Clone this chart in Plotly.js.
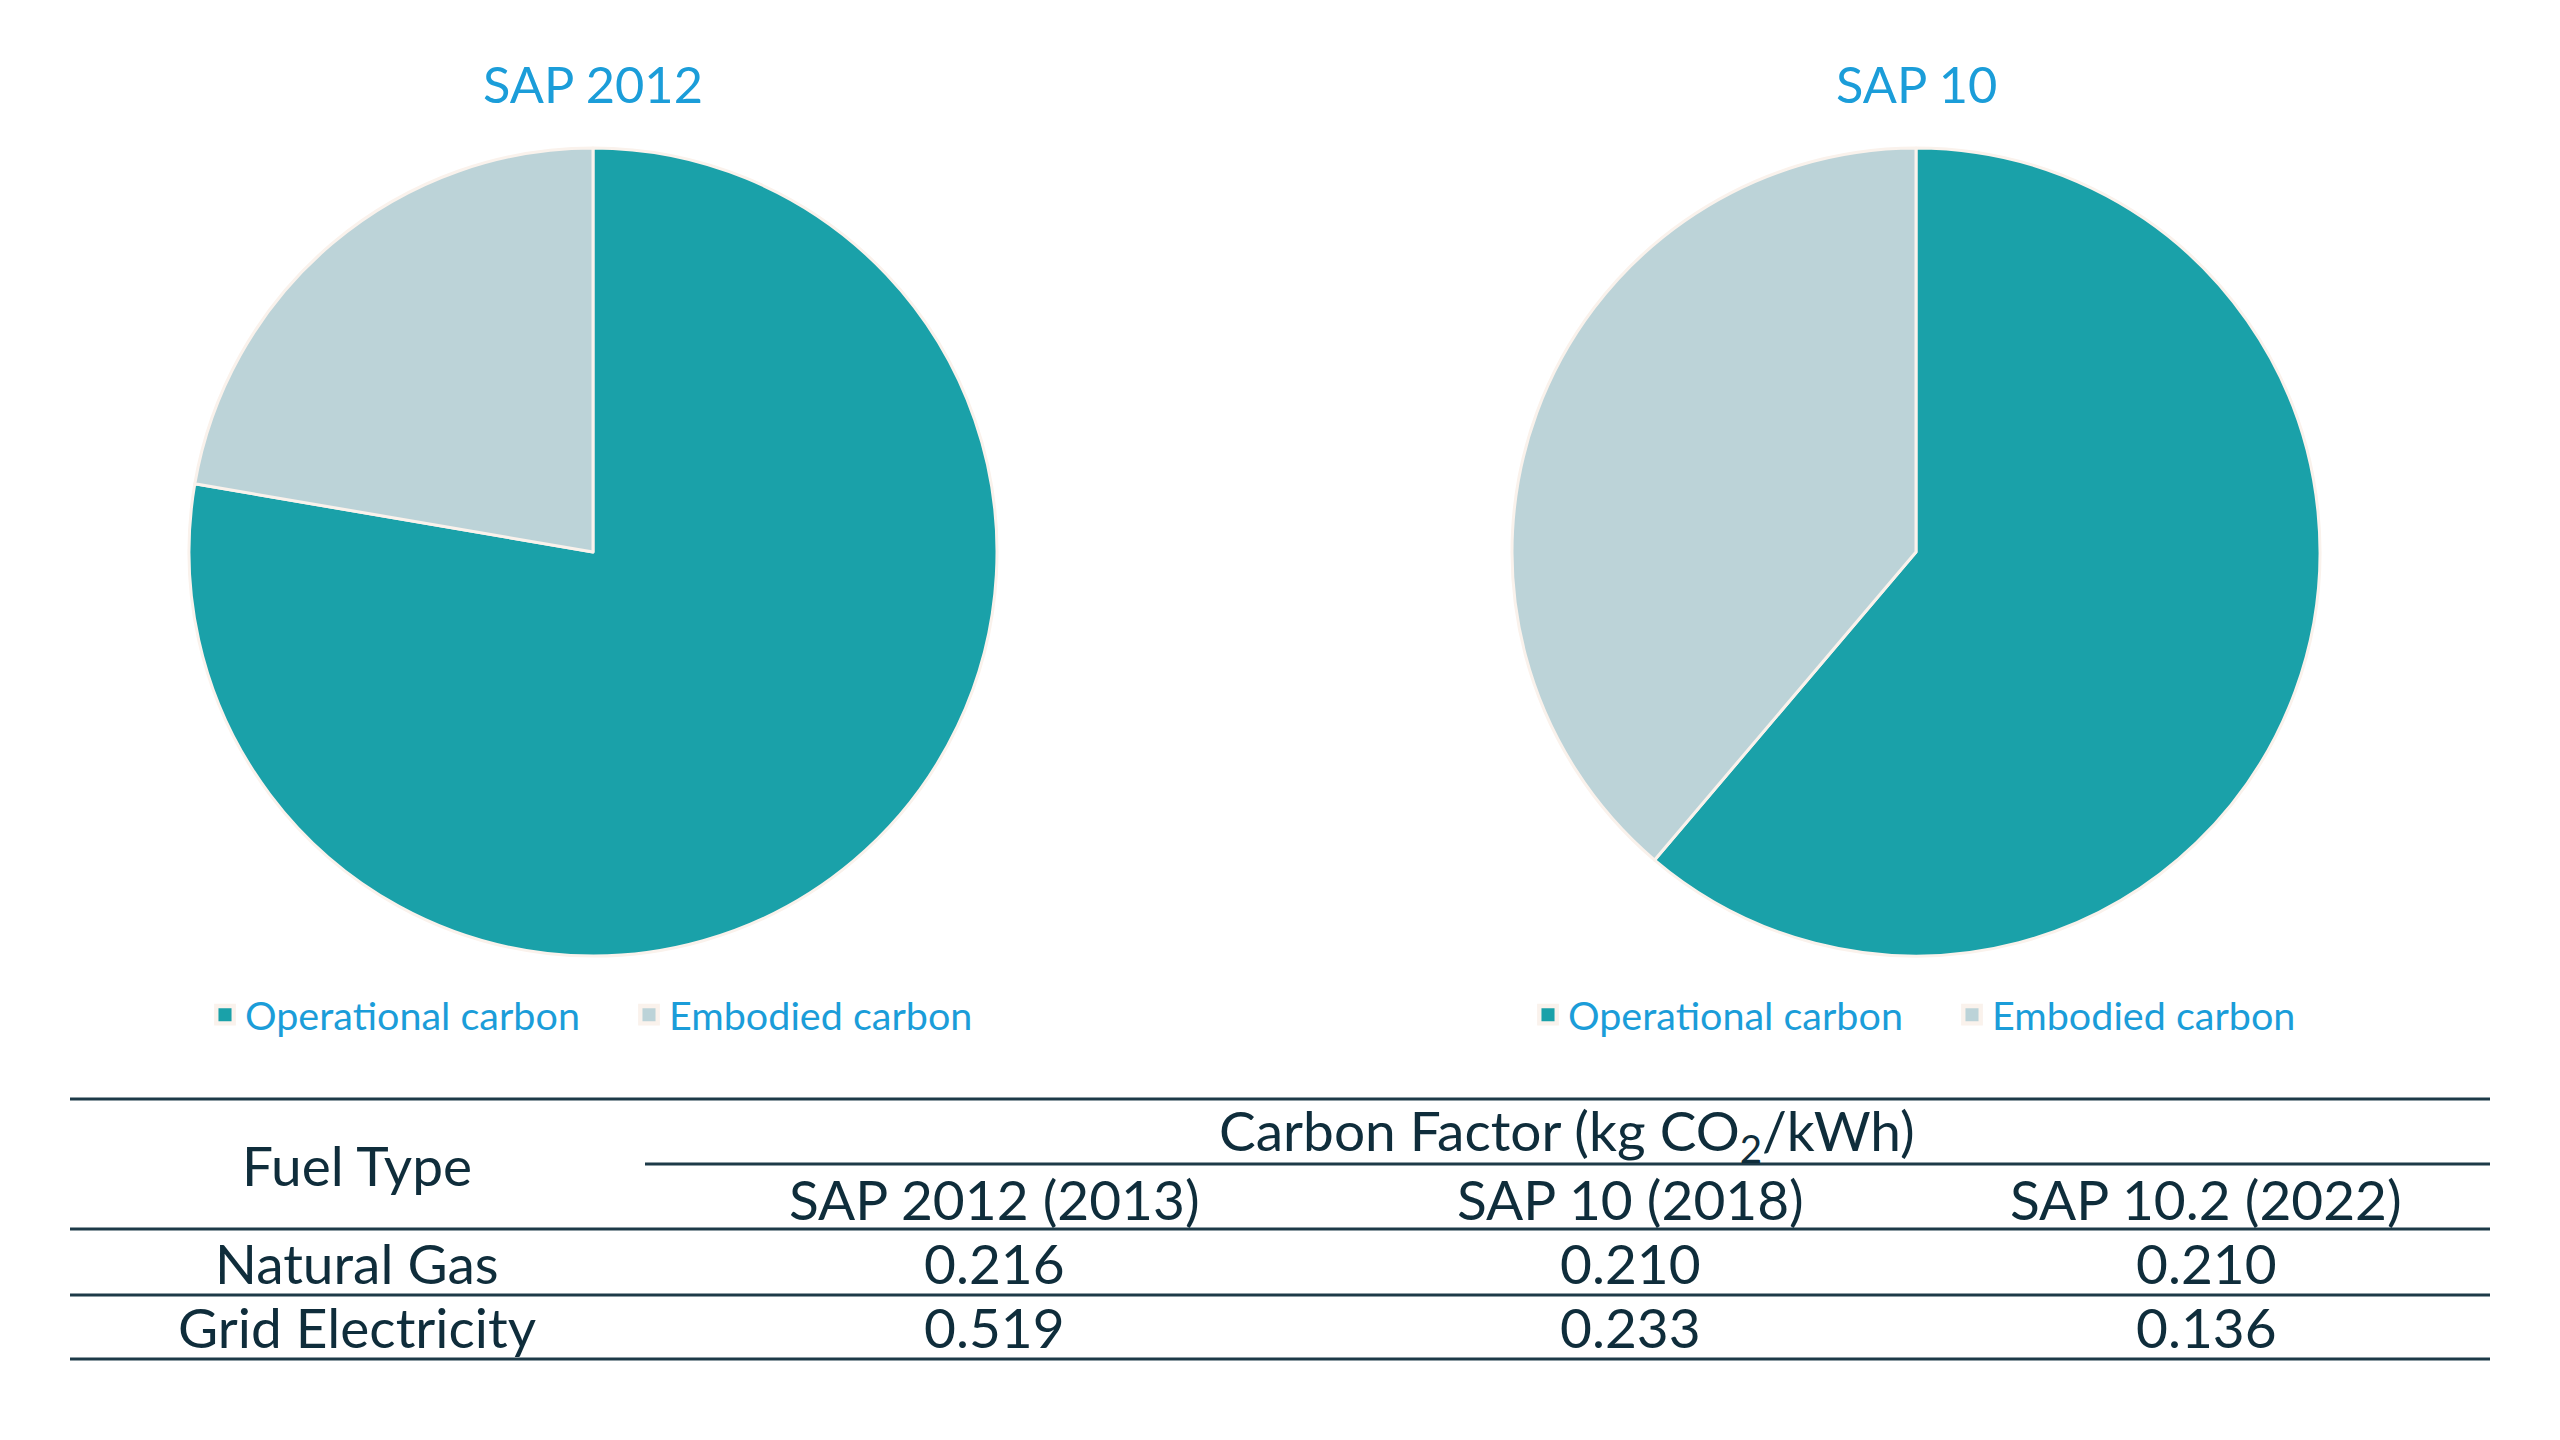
<!DOCTYPE html>
<html>
<head>
<meta charset="utf-8">
<script src="https://cdn.plot.ly/plotly-3.0.1.min.js"></script>
<style>
  html, body { margin: 0; padding: 0; background: #ffffff; }
  #chart { width: 2560px; height: 1440px; }
</style>
</head>
<body>
<div id="chart"></div>
<script>
// ---- Data ----
const pieLabels = ["Operational carbon", "Embodied carbon"];
const pieTitles = ["SAP 2012", "SAP 10"];
const sap2012Shares = [77.7, 22.3];
const sap10Shares = [61.2, 38.8];

const tableTopHeader = "Carbon Factor (kg CO<sub>2</sub>/kWh)";
const tableRowHeader = "Fuel Type";
const tableColumns = ["SAP 2012 (2013)", "SAP 10 (2018)", "SAP 10.2 (2022)"];
const fuelTypes = ["Natural Gas", "Grid Electricity"];
const naturalGas = ["0.216", "0.210", "0.210"];
const gridElectricity = ["0.519", "0.233", "0.136"];

// ---- Style ----
const W = 2560, H = 1440;
const FONT = "Lato, 'Open Sans', sans-serif";
const BLUE = "#1b9dd9";
const TEAL = "#1aa1a9";
const GREY = "#bcd3d8";
const BORDER = "#faf2ec";
const INK = "#0f2d3b";
const RULE = "#1d3a48";

const px = x => x / W;
const py = y => 1 - y / H;

const R = 404;
const centers = [[593, 552], [1916, 552]];
function dom(c) {
  return { x: [px(c[0] - R), px(c[0] + R)], y: [py(c[1] + R), py(c[1] - R)] };
}

const pieCommon = {
  type: "pie",
  labels: pieLabels,
  sort: false,
  direction: "clockwise",
  rotation: 0,
  textinfo: "none",
  hoverinfo: "none",
  marker: { colors: [TEAL, GREY], line: { color: BORDER, width: 3 } }
};

const data = [
  Object.assign({}, pieCommon, { values: sap2012Shares, domain: dom(centers[0]), legend: "legend", legendgroup: "g1" }),
  Object.assign({}, pieCommon, { values: sap10Shares, domain: dom(centers[1]), legend: "legend2", legendgroup: "g2" })
];

const legendCommon = {
  orientation: "h",
  traceorder: "normal",
  xanchor: "left",
  yanchor: "middle",
  y: py(1015),
  font: { family: FONT, size: 39.5, color: BLUE },
  entrywidth: 379,
  entrywidthmode: "pixels",
  bgcolor: "rgba(0,0,0,0)",
  visible: true
};

const annotations = [];
pieTitles.forEach((t, i) => {
  annotations.push({
    text: t, xref: "paper", yref: "paper", x: px(centers[i][0]), y: py(83),
    xanchor: "center", yanchor: "middle", showarrow: false,
    font: { family: FONT, size: 50.5, color: BLUE }
  });
});

const tFont = { family: FONT, size: 55, color: INK };
function cell(text, x, y) {
  annotations.push({
    text: text, xref: "paper", yref: "paper", x: px(x), y: py(y),
    xanchor: "center", yanchor: "middle", showarrow: false, font: tFont
  });
}
const labelX = 357;
const colX = [994, 1630, 2206];
cell(tableRowHeader, labelX, 1165);
cell(tableTopHeader, 1567, 1134);
tableColumns.forEach((c, i) => cell(c, colX[i], 1199));
const rowsY = [1263, 1327];
const rows = [naturalGas, gridElectricity];
fuelTypes.forEach((f, r) => {
  cell(f, labelX, rowsY[r]);
  rows[r].forEach((v, i) => cell(v, colX[i], rowsY[r]));
});

const shapes = [];
function hline(x0, x1, y) {
  shapes.push({ type: "line", xref: "paper", yref: "paper", x0: px(x0), x1: px(x1), y0: py(y), y1: py(y),
    line: { color: RULE, width: 3 } });
}
hline(70, 2490, 1099);
hline(645, 2490, 1164);
hline(70, 2490, 1229);
hline(70, 2490, 1295);
hline(70, 2490, 1359);

const layout = {
  width: W, height: H,
  margin: { l: 0, r: 0, t: 0, b: 0 },
  paper_bgcolor: "#ffffff",
  plot_bgcolor: "#ffffff",
  showlegend: true,
  legend: Object.assign({}, legendCommon, { x: px(205) }),
  legend2: Object.assign({}, legendCommon, { x: px(1528) }),
  annotations: annotations,
  shapes: shapes,
  font: { family: FONT }
};

Plotly.newPlot("chart", data, layout, { staticPlot: true, displayModeBar: false }).then(gd => {
  // enlarge the small square legend swatches to match the reference
  gd.querySelectorAll(".legendpoints path").forEach(p => {
    const t = p.getAttribute("transform") || "";
    p.setAttribute("transform", t + " scale(1.45)");
  });
});
</script>
</body>
</html>
